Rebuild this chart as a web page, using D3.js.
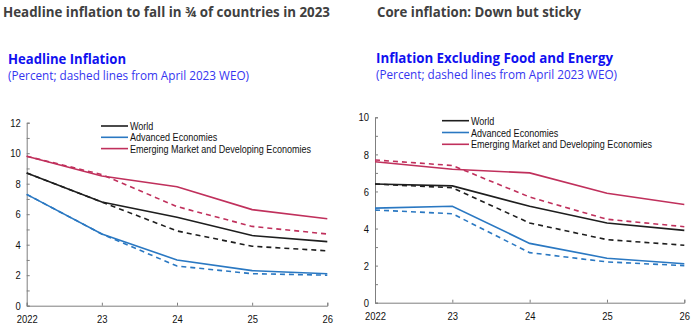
<!DOCTYPE html>
<html>
<head>
<meta charset="utf-8">
<script src="https://cdn.jsdelivr.net/npm/d3@7"></script>
<style>
  body { margin: 0; background: #fff; }
  .title { font-family: "Open Sans", sans-serif; font-weight: 700; fill: #404040; }
  .sub { font-family: "Open Sans", sans-serif; font-weight: 700; fill: #1010f0; }
  .note { font-family: "Open Sans", sans-serif; fill: #3535f0; }
  .tick text, .leg { font-family: "Liberation Sans Narrow", "Arial Narrow", "Liberation Sans", sans-serif; fill: #111; }
</style>
</head>
<body>
<svg id="chart" width="700" height="328"></svg>
<script>
const years = ["2022", "23", "24", "25", "26"];
const seriesNames = ["World", "Advanced Economies", "Emerging Market and Developing Economies"];
const colors = ["#1e1e1e", "#2a78c2", "#c0305c"];

// headline inflation: current (solid) and April 2023 WEO (dashed)
const headWorld = [8.7, 6.8, 5.8, 4.6, 4.2];
const headAdv = [7.3, 4.7, 3.0, 2.3, 2.1];
const headEm = [9.8, 8.5, 7.8, 6.3, 5.7];
const headWorldApr = [8.7, 6.8, 4.9, 3.9, 3.6];
const headAdvApr = [7.3, 4.7, 2.6, 2.1, 2.0];
const headEmApr = [9.8, 8.6, 6.5, 5.2, 4.7];

// core inflation
const coreWorld = [6.4, 6.3, 5.2, 4.3, 3.9];
const coreAdv = [5.1, 5.2, 3.2, 2.4, 2.1];
const coreEm = [7.6, 7.2, 7.0, 5.9, 5.3];
const coreWorldApr = [6.4, 6.2, 4.3, 3.4, 3.1];
const coreAdvApr = [5.0, 4.8, 2.7, 2.2, 2.0];
const coreEmApr = [7.7, 7.4, 5.7, 4.5, 4.1];

const svg = d3.select("#chart");

// stretch/squeeze text to span the given width
function span(sel, w) {
  sel.attr("textLength", w).attr("lengthAdjust", "spacingAndGlyphs");
  return sel;
}
// squeeze glyphs to look like a narrow face
function narrow(sel) {
  sel.each(function () {
    const len = this.getComputedTextLength();
    if (len > 0) d3.select(this).attr("textLength", len * 0.82).attr("lengthAdjust", "spacingAndGlyphs");
  });
}

function panel(opt) {
  const g = svg.append("g");

  span(g.append("text").attr("class", "title").attr("x", opt.tx).attr("y", 17)
    .style("font-size", "13.8px").text(opt.title), opt.tw);
  span(g.append("text").attr("class", "sub").attr("x", opt.sx).attr("y", opt.sy)
    .style("font-size", "14px").text(opt.sub), opt.sw);
  span(g.append("text").attr("class", "note").attr("x", opt.sx).attr("y", opt.sy + 16)
    .style("font-size", "12px").text("(Percent; dashed lines from April 2023 WEO)"), 241);

  const x = d3.scalePoint().domain(years).range([opt.x0, opt.x1]);
  const y = d3.scaleLinear().domain([0, opt.ymax]).range([opt.y0, opt.y1]);

  const yAxis = g.append("g").attr("transform", `translate(${opt.x0},0)`)
    .call(d3.axisRight(y).ticks(opt.ymax).tickSize(3).tickFormat(d => d % 2 === 0 ? d : ""));
  yAxis.selectAll(".tick text").attr("x", -6).attr("text-anchor", "end").style("font-size", "11.5px");

  const xAxis = g.append("g").attr("transform", `translate(0,${opt.y0})`)
    .call(d3.axisTop(x).tickSize(3));
  xAxis.selectAll(".tick text").attr("y", 17.5).attr("dy", "0").style("font-size", "11.5px");

  g.selectAll("path.domain").attr("stroke", "#7f7f7f");
  g.selectAll(".tick line").attr("stroke", "#7f7f7f");
  narrow(g.selectAll(".tick text"));

  const line = d3.line().x((d, i) => x(years[i])).y(d => y(d));

  opt.dashed.forEach((s, i) => {
    g.append("path").attr("d", line(s)).attr("fill", "none")
      .attr("stroke", colors[i]).attr("stroke-width", 1.6).attr("stroke-dasharray", "5,4");
  });
  opt.solid.forEach((s, i) => {
    g.append("path").attr("d", line(s)).attr("fill", "none")
      .attr("stroke", colors[i]).attr("stroke-width", 1.6);
  });

  seriesNames.forEach((n, i) => {
    const yy = opt.ly + i * opt.lstep;
    g.append("line").attr("x1", opt.lx).attr("x2", opt.lx + 27).attr("y1", yy).attr("y2", yy)
      .attr("stroke", colors[i]).attr("stroke-width", 1.6);
    narrow(g.append("text").attr("class", "leg").attr("x", opt.lx + 29).attr("y", yy + 4)
      .style("font-size", "11px").text(n));
  });
}

panel({
  title: "Headline inflation to fall in \u00be of countries in 2023",
  sub: "Headline Inflation",
  tx: 3, tw: 327, sx: 8, sw: 118, sy: 64,
  x0: 26.7, x1: 327.3, y0: 305.7, y1: 122.7, ymax: 12,
  solid: [headWorld, headAdv, headEm],
  dashed: [headWorldApr, headAdvApr, headEmApr],
  lx: 101, ly: 126, lstep: 11.3
});

panel({
  title: "Core inflation: Down but sticky",
  sub: "Inflation Excluding Food and Energy",
  tx: 377, tw: 204, sx: 376, sw: 237, sy: 63,
  x0: 375, x1: 684.3, y0: 302.7, y1: 117.3, ymax: 10,
  solid: [coreWorld, coreAdv, coreEm],
  dashed: [coreWorldApr, coreAdvApr, coreEmApr],
  lx: 442, ly: 120.7, lstep: 11.8
});
</script>
</body>
</html>
